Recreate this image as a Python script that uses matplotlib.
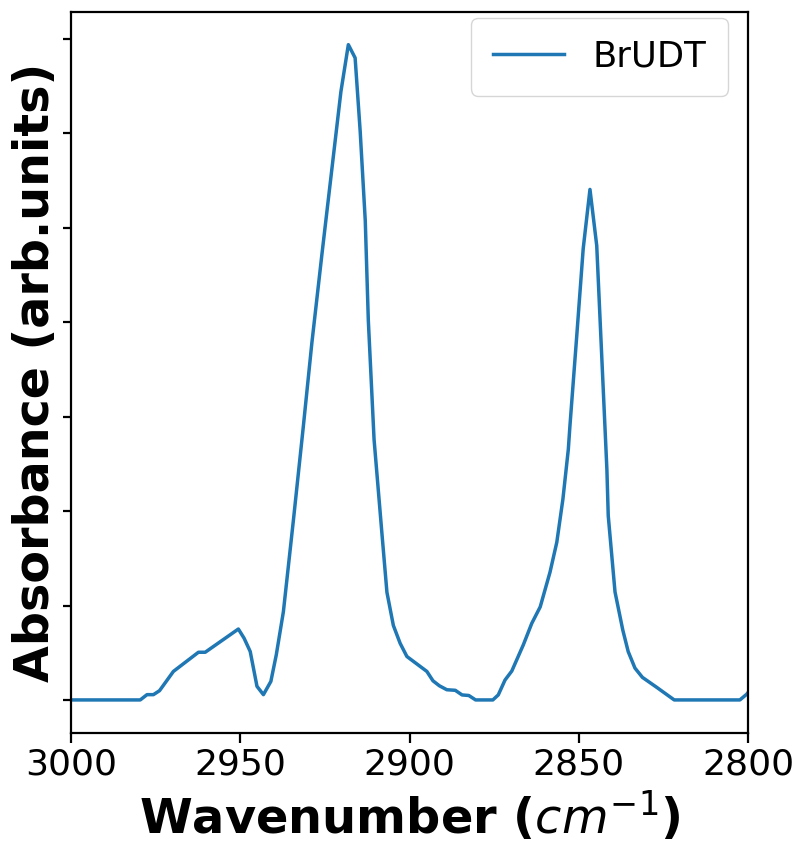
import matplotlib
matplotlib.use("Agg")
import matplotlib.pyplot as plt

plt.rcParams.update({
    "font.family": "DejaVu Sans",
    "axes.linewidth": 1.6,
    "xtick.major.width": 1.6,
    "ytick.major.width": 1.6,
    "xtick.major.size": 7,
    "ytick.major.size": 6,
})

# wavenumber (cm^-1) and absorbance (arb. units)
wavenumber = [3000.0, 2979.6, 2977.6, 2975.7, 2973.9, 2969.8, 2962.4, 2960.4,
              2950.6, 2948.9, 2947.1, 2945.1, 2943.2, 2941.0, 2939.4, 2937.3,
              2934.3, 2931.4, 2928.9, 2925.9, 2923.5, 2920.3, 2918.1, 2916.1,
              2914.6, 2913.1, 2912.2, 2910.5, 2908.2, 2906.7, 2904.8, 2902.8,
              2900.8, 2894.9, 2893.1, 2891.2, 2889.0, 2886.5, 2884.5, 2882.5,
              2880.5, 2875.4, 2873.8, 2871.8, 2869.8, 2866.4, 2863.9, 2861.4,
              2858.5, 2856.5, 2854.7, 2853.1, 2852.6, 2850.6, 2848.7, 2846.7,
              2844.7, 2843.5, 2841.7, 2841.3, 2839.3, 2837.0, 2835.4, 2833.4,
              2831.2, 2827.0, 2821.8, 2802.4, 2800.4, 2798.4]
absorbance = [0.0, 0.0, 0.056, 0.056, 0.098, 0.302, 0.505, 0.505,
              0.751, 0.653, 0.513, 0.144, 0.056, 0.196, 0.477, 0.934,
              1.916, 2.898, 3.775, 4.723, 5.460, 6.442, 6.940, 6.800,
              6.021, 5.074, 4.021, 2.758, 1.772, 1.140, 0.789, 0.600,
              0.460, 0.302, 0.203, 0.150, 0.108, 0.102, 0.053, 0.047,
              0.0, 0.0, 0.053, 0.211, 0.306, 0.583, 0.811, 0.986,
              1.354, 1.670, 2.126, 2.653, 2.912, 3.859, 4.779, 5.407,
              4.811, 3.859, 2.442, 1.951, 1.144, 0.740, 0.512, 0.337,
              0.239, 0.134, 0.0, 0.0, 0.060, 0.15]

fig, ax = plt.subplots(figsize=(8, 8.5), dpi=100)
fig.subplots_adjust(left=0.089, right=0.935, top=0.986, bottom=0.138)

ax.plot(wavenumber, absorbance, color="#1f77b4", linewidth=2.5, label="BrUDT")
ax.set_xlim(3000, 2800)
ax.set_xticks([3000, 2950, 2900, 2850, 2800])
ax.set_yticks(range(0, 8))
ax.set_yticklabels([])
ax.tick_params(axis="x", labelsize=26)

ax.set_xlabel(r"Wavenumber ($cm^{-1}$)", fontsize=34.5, fontweight="bold", labelpad=6)
ax.set_ylabel("Absorbance (arb.units)", fontsize=34.3, fontweight="bold", labelpad=-1)
ax.legend(loc="upper right", bbox_to_anchor=(0.9705, 0.992), borderaxespad=0,
          fontsize=25.5, borderpad=0.62)

fig.savefig("out.png")
